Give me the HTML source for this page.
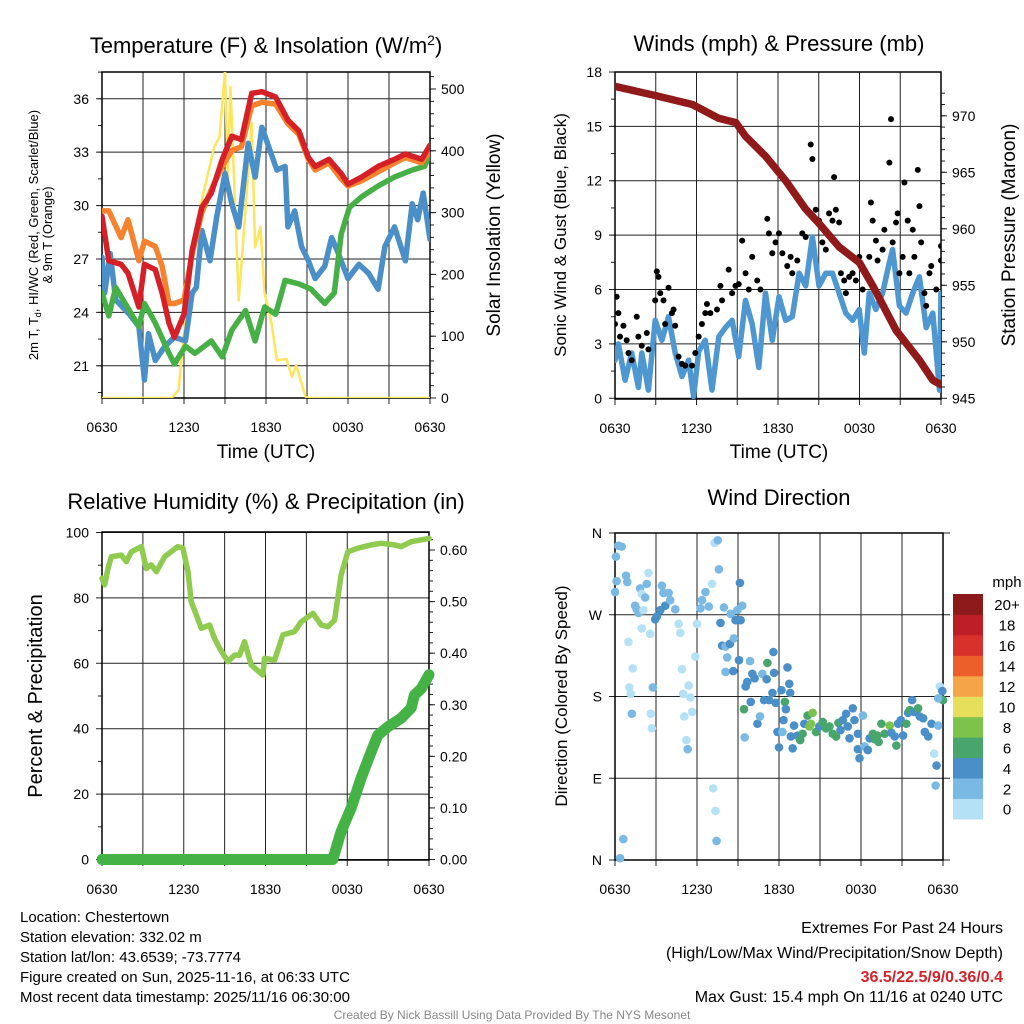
<!DOCTYPE html>
<html><head><meta charset="utf-8"><style>
html,body{margin:0;padding:0;background:#fff;}
svg{display:block;font-family:"Liberation Sans",Arial,sans-serif;}
</style></head><body>
<svg id="chart" width="1024" height="1024" viewBox="0 0 1024 1024" xmlns="http://www.w3.org/2000/svg">
<defs>
<clipPath id="c1"><rect x="102" y="72" width="328" height="326"/></clipPath>
<clipPath id="c2"><rect x="615" y="72" width="326" height="327"/></clipPath>
<clipPath id="c3"><rect x="96" y="532" width="339" height="334"/></clipPath>
<clipPath id="c4"><rect x="610" y="528" width="338" height="338"/></clipPath>
</defs>
<g id="root"></g>
<g font-size="15" fill="#000">
<text x="20" y="922">Location: Chestertown</text>
<text x="20" y="942">Station elevation: 332.02 m</text>
<text x="20" y="962">Station lat/lon: 43.6539; -73.7774</text>
<text x="20" y="982">Figure created on Sun, 2025-11-16, at 06:33 UTC</text>
<text x="20" y="1002">Most recent data timestamp: 2025/11/16 06:30:00</text>
</g>
<g font-size="16" text-anchor="end">
<text x="1003" y="933">Extremes For Past 24 Hours</text>
<text x="1003" y="958">(High/Low/Max Wind/Precipitation/Snow Depth)</text>
<text x="1003" y="982" fill="#d2232a" font-weight="bold">36.5/22.5/9/0.36/0.4</text>
<text x="1003" y="1002">Max Gust: 15.4 mph On 11/16 at 0240 UTC</text>
</g>
<text x="512" y="1019" font-size="12" fill="#888" text-anchor="middle">Created By Nick Bassill Using Data Provided By The NYS Mesonet</text>
</svg>
<script>
// ---------- Panel 1 data: temperature (F) & insolation ----------
const tempHours = [0,0.5,1.4,1.9,2.7,3.1,3.9,4.4,4.9,5.3,6.0,6.6,7.3,8.0,8.8,9.5,10.2,10.95,11.7,12.7,13.6,14.4,15.1,15.6,16.6,17.5,18.0,19.0,20.2,21.4,22.2,23.4,24];
const tempRed = [29.4,26.9,26.7,26.2,24.3,26.7,26.4,25.1,23.4,22.6,23.9,27.5,29.9,30.7,32.6,33.9,33.7,36.3,36.4,36.1,34.8,34.2,32.7,32.2,32.6,31.8,31.2,31.6,32.2,32.6,32.9,32.6,33.4];
const tempOrange = [29.7,29.7,28.2,29.2,26.9,28.0,27.7,26.6,24.5,24.5,24.7,27.3,29.6,30.9,32.2,33.1,33.3,35.6,35.8,35.7,34.6,34.0,32.6,32.0,32.4,31.5,31.1,31.4,31.9,32.4,32.7,32.4,33.1];
const dewHours = [0,0.5,1.0,1.7,2.7,3.1,3.9,4.9,5.3,6.1,6.8,8.0,8.8,9.5,10.5,11.2,11.9,12.7,13.4,14.4,15.3,16.3,17.0,17.5,18.1,19.0,20.2,21.4,22.7,23.6,24];
const dewGreen = [25.1,23.8,25.4,24.5,23.2,24.5,23.4,21.7,21.1,22.1,21.7,22.4,21.5,23.0,24.1,22.4,24.3,23.9,25.8,25.6,25.3,24.5,25.1,28.4,29.9,30.5,31.1,31.6,32.0,32.2,32.9];
const hiHours = [0,0.2,0.6,1.0,2.0,2.7,3.1,3.4,3.9,4.6,5.3,6.1,6.6,6.9,7.3,7.9,8.4,9.0,9.5,10.0,10.7,11.2,11.7,12.2,12.8,13.4,13.6,14.1,14.6,15.1,15.6,16.3,16.8,17.3,18.0,18.8,19.5,20.2,20.7,21.4,22.2,22.7,23.1,23.5,24];
const hiBlue = [27.1,25.1,27.3,24.7,23.9,23.2,20.2,22.8,21.3,22.1,22.6,22.4,25.1,25.4,28.6,26.9,29.4,31.8,30.1,28.8,33.5,31.6,34.4,33.3,32.0,32.2,28.8,29.7,27.7,26.9,25.9,26.6,28.2,27.3,25.9,26.7,26.2,25.3,27.7,28.8,26.9,30.1,29.2,30.7,28.1];
const solarHours = [0,5.1,5.6,6.0,6.6,7.3,8.2,8.6,9.0,9.2,9.4,10.0,10.5,10.95,11.2,11.6,11.9,12.4,12.8,13.5,13.9,14.2,14.9,15.1,24];
const solarYellow = [0,0,13,105,223,320,406,422,530,357,503,158,304,445,244,277,170,121,61,63,34,53,2,0,0];
const tempTicks = [21,24,27,30,33,36];
const solarTicks = [0,100,200,300,400,500];
// ---------- Panel 2 data: winds & pressure ----------
const presHours = [0,2.96,5.7,7.6,8.9,9.6,11.1,12.6,14.0,15.0,16.5,18.0,19.0,20.7,22.4,23.4,24];
const pressure = [972.6,971.8,971.0,969.8,969.4,968.2,966.4,964.2,961.8,960.5,958.4,957.0,954.9,951.0,948.4,946.6,946.2];
const windHours = [0,0.25,0.74,1.23,1.72,1.97,2.46,2.96,3.45,3.94,4.43,4.93,5.42,5.79,6.16,6.65,7.14,7.64,8.13,8.62,9.11,9.61,10.1,10.59,11.08,11.58,12.07,12.56,13.05,13.55,14.04,14.53,15.02,15.52,16.01,16.5,16.99,17.49,17.98,18.35,18.72,19.21,19.7,20.2,20.44,20.94,21.43,21.92,22.41,22.91,23.4,23.89,24];
const windBlue = [2.1,3.0,1.0,2.5,0.6,2.5,0.45,4.3,3.2,4.5,2.5,1.2,2.1,0.1,2.6,3.2,0.45,3.4,3.9,4.3,2.3,5.4,4.1,1.7,5.8,3.2,5.6,4.3,4.5,6.9,6.2,8.9,6.2,6.9,6.9,5.8,4.7,4.3,4.9,2.5,5.8,4.9,5.8,7.5,8.2,5.1,4.7,5.8,6.7,3.9,4.7,0.45,5.8];
const gustHours = [0,0.12,0.25,0.37,0.62,0.86,0.99,1.23,1.6,1.72,1.97,2.34,2.46,2.96,3.08,3.2,3.33,3.57,3.69,3.94,4.19,4.31,4.43,4.68,4.93,5.17,5.67,5.91,6.16,6.4,6.65,6.77,7.02,7.51,7.76,7.88,8.37,8.62,8.87,9.11,9.36,9.61,9.85,10.1,10.47,10.71,11.21,11.33,11.58,11.82,12.07,12.32,12.68,12.93,13.05,13.42,13.79,14.04,14.29,14.41,14.53,14.78,15.02,15.27,15.52,15.76,16.01,16.13,16.26,16.5,16.63,16.87,17.0,17.24,17.49,17.73,17.98,18.23,18.72,18.84,18.97,19.21,19.33,19.7,19.83,20.2,20.32,20.44,20.69,20.81,20.94,21.18,21.31,21.55,21.67,21.92,22.04,22.29,22.41,22.54,22.78,22.91,23.15,23.28,23.65,24,24];
const gustBlack = [4.1,5.6,4.7,3.4,4.0,3.2,2.5,2.1,4.5,3.4,2.9,3.6,2.7,5.4,7.0,6.7,5.8,5.4,4.1,6.1,4.7,4.9,4.0,2.3,1.9,1.8,1.8,2.5,3.4,4.1,4.7,5.2,4.7,4.9,6.2,5.4,7.1,5.8,6.2,6.3,8.7,6.9,6.0,7.8,6.5,6.0,9.9,9.1,8.0,8.6,9.1,8.0,7.3,7.8,6.9,7.6,9.1,8.9,10.2,14.0,13.2,10.4,9.8,8.6,8.2,10.2,9.8,12.2,10.4,9.7,6.9,6.5,5.8,6.7,6.9,6.5,7.8,6.0,7.8,10.8,9.8,8.7,7.6,8.2,9.3,13.0,15.4,8.6,9.7,10.2,6.9,7.8,11.9,9.8,6.9,9.3,7.8,12.6,10.6,8.6,5.8,5.1,6.9,7.3,6.0,7.6,8.4];
const windTicks = [0,3,6,9,12,15,18];
const presTicks = [945,950,955,960,965,970];
// ---------- Panel 3 data: RH & precipitation ----------
const rhHours = [0,0.2,0.44,0.68,1.42,1.78,2.15,2.89,3.25,3.62,3.99,4.6,5.57,5.94,6.31,6.55,7.29,7.9,8.26,8.63,9.24,9.73,10.1,10.46,10.95,11.81,11.93,12.67,13.28,14.13,14.62,15.48,16.09,16.58,17.07,17.55,18.04,18.78,19.76,20.49,21.47,21.96,22.69,24];
const rhValues = [86,84,89,92.6,93.1,91.1,94.1,95.7,89,90.1,88,92.6,95.7,95.2,88,78.9,70.7,71.7,67.6,64.6,60.5,62.5,62.5,66.6,59.5,56.4,61.5,61,68.7,69.7,72.7,75.3,71.7,71.2,73.2,87,94.1,95.2,96.2,96.7,96.2,95.7,97.2,98.2];
const precipHours = [0,16.94,17.55,18.29,19.02,19.76,20.24,20.98,21.96,22.69,22.93,23.42,24];
const precipValues = [0,0,0.054,0.10,0.158,0.209,0.241,0.257,0.274,0.294,0.319,0.331,0.358];
const rhTicks = [0,20,40,60,80,100];
const precipTicks = [0,0.1,0.2,0.3,0.4,0.5,0.6];
// ---------- Panel 4 data: wind direction ----------
const dirHours = [0,0.07,0.25,0.49,0.12,0.81,0.9,0.98,1.3,1.05,1.15,1.23,1.84,1.96,1.47,1.59,1.72,2.08,2.21,2.45,2.33,1.96,2.57,2.62,2.7,2.77,2.94,3.06,3.31,3.43,3.55,3.68,3.92,4.04,4.41,4.66,4.78,4.9,4.98,5.07,5.22,5.32,5.39,5.51,5.64,5.88,6.0,6.25,6.37,6.62,6.86,7.1,7.28,7.52,7.6,7.18,7.35,7.43,0.61,0.37,7.72,7.84,7.97,8.09,8.21,8.09,8.46,8.41,8.7,8.65,8.82,8.95,9.19,9.14,9.31,9.07,9.44,9.49,9.56,9.68,9.88,9.93,10.05,10.22,10.42,10.61,10.78,10.91,11.1,11.15,11.27,11.52,11.59,11.64,11.76,11.89,12.0,12.25,12.18,12.33,12.43,12.5,12.62,12.75,12.82,12.87,13.0,13.1,13.36,13.55,13.73,13.85,14.09,14.22,14.34,14.46,14.71,14.95,15.2,15.44,15.69,15.93,16.18,16.35,16.5,16.67,16.91,17.03,17.16,17.4,17.52,17.77,17.77,17.89,18.14,18.26,18.5,18.63,18.87,19.0,19.19,19.29,19.49,19.73,20.1,20.22,20.47,20.59,20.71,20.91,21.08,21.32,21.45,21.57,21.74,21.89,22.18,22.3,22.55,22.67,22.92,23.16,23.36,23.53,23.46,23.65,23.77,23.95,24.0,23.65];
const dirDegrees = [295,334,346,345,307,313,306,240,211,190,183,161,299,293,280,276,272,275,289,316,304,255,249,161,145,190,265,268,275,302,294,280,294,286,276,260,250,210,183,158,132,122,192,179,163,224,260,277,286,295,279,304,349,352,320,79,54,21,23,2,261,236,278,235,223,207,271,238,244,208,264,275,264,305,280,220,166,135,191,196,219,174,205,200,150,158,205,176,199,217,176,184,229,206,173,141,124,141,187,154,174,166,212,194,184,136,123,148,137,132,139,150,159,147,150,162,141,147,152,145,147,139,136,151,143,154,161,147,134,167,154,139,122,112,159,125,121,134,139,133,137,130,150,139,148,140,136,126,150,154,137,150,162,165,176,163,167,158,156,141,136,150,117,104,82,148,191,186,176,178];
const dirSpeeds = [2,2,2,2,2,2,2,0,0,0,0,2,2,0,2,2,2,0,2,0,2,0,0,0,0,2,4,4,4,2,2,4,2,2,2,0,0,0,0,0,0,2,0,0,0,0,0,2,2,2,2,0,0,2,2,0,0,2,2,2,4,4,2,2,2,2,2,4,2,4,4,2,4,4,2,4,6,2,4,4,2,4,4,4,4,2,2,4,4,6,4,4,4,4,4,4,4,2,4,4,6,4,4,4,4,4,4,4,4,6,6,4,6,8,8,8,6,4,6,6,6,6,6,6,4,4,4,4,4,4,4,4,4,4,2,2,4,4,6,6,6,6,6,6,8,4,4,6,4,4,4,6,4,6,4,4,6,4,4,4,4,4,0,4,2,2,0,4,6,2];
const dirTickLabels = ['N','E','S','W','N'];
const speedBins = ['0','2','4','6','8','10','12','14','16','18','20+'];
const speedColors = ['#b5e1f7','#7ab9e3','#4a8fc8','#48a56c','#7dc24b','#e5df5b','#f4a547','#ec5f2b','#d8302b','#bd1e25','#8c1a1b'];
const timeTickLabels = ['0630','1230','1830','0030','0630'];

const NS='http://www.w3.org/2000/svg';
const root=document.getElementById('root');
function mk(tag,attrs,parent){const e=document.createElementNS(NS,tag);for(const k in attrs)e.setAttribute(k,attrs[k]);(parent||root).appendChild(e);return e;}
function txt(s,attrs,parent){const e=mk('text',attrs,parent);e.textContent=s;return e;}

function panel(P){
  const g=mk('g',{});
  
  
  P.g=g;
  P.xh=h=>P.x0+h*(P.x1-P.x0)/24;
  for(let i=0;i<=8;i++){const x=P.xh(i*3);const l=mk('line',{x1:x,x2:x,y1:P.y0,y2:P.y1+6,stroke:'#222','stroke-width':1},g);
    }
  P.leftTicks.forEach((v,i)=>{const y=P.ly(v);const l=mk('line',{x1:P.x0-6,x2:P.x1+(P.gridExt||0),y1:y,y2:y,stroke:'#222','stroke-width':1},g);
    
    const t=txt(P.leftLabels?P.leftLabels[i]:String(v),{x:P.x0-13,y:y+5,'font-size':14,'text-anchor':'end'},g);
    });
  if(P.minorLeft)P.minorLeft.forEach(v=>mk('line',{x1:P.x0-4,x2:P.x0,y1:P.ly(v),y2:P.ly(v),stroke:'#222'},g));
  if(P.rightTicks)P.rightTicks.forEach((v,i)=>{const y=P.ry(v);mk('line',{x1:P.x1,x2:P.x1+6,y1:y,y2:y,stroke:'#222'},g);
    const t=txt(P.rightLabels[i],{x:P.x1+11,y:y+5,'font-size':14},g);
    });
  if(P.minorRight)P.minorRight.forEach(v=>mk('line',{x1:P.x1,x2:P.x1+4,y1:P.ry(v),y2:P.ry(v),stroke:'#222'},g));
  const b=mk('rect',{x:P.x0,y:P.y0,width:P.x1-P.x0,height:P.y1-P.y0,fill:'none',stroke:'#000','stroke-width':1.5},g);
  
  timeTickLabels.forEach((s,i)=>{const t=txt(s,{x:P.xh(i*6),y:P.y1+34,'font-size':14,'text-anchor':'middle'},g);
    });
  return P;
}
function series(P,hs,vs,yf,color,w,name){
  const d=hs.map((h,i)=>(i?'L':'M')+P.xh(h).toFixed(1)+','+yf(vs[i]).toFixed(1)).join(' ');
  const p=mk('path',{d:d,fill:'none',stroke:color,'stroke-width':w,'stroke-linejoin':'round','stroke-linecap':'round','clip-path':'url(#'+P.clip+')'},P.g);
  
}
function range(a,b,s){const r=[];for(let v=a;v<=b+1e-9;v+=s)r.push(+v.toFixed(3));return r;}

// Panel 1
const P1=panel({name:'temperature-panel',x0:102,x1:430,y0:72,y1:398,clip:'c1',
  ly:v=>398-(v-19.19)*17.8, ry:v=>398-v*0.618,
  leftTicks:tempTicks, minorLeft:range(19.5,37.5,1.5),
  rightTicks:solarTicks, rightLabels:solarTicks.map(String), minorRight:range(0,520,20)});
series(P1,solarHours,solarYellow,P1.ry,'#fde55c',2.5,'solar-insolation-line');
series(P1,hiHours,hiBlue,P1.ly,'#4b8fc8',5.5,'heat-index-windchill-line');
series(P1,dewHours,dewGreen,P1.ly,'#46b046',5.5,'dewpoint-line');
series(P1,tempHours,tempOrange,P1.ly,'#f5822e',5.5,'temp-9m-line');
series(P1,tempHours,tempRed,P1.ly,'#d62027',5.5,'temp-2m-line');

// Panel 2
const P2=panel({name:'winds-pressure-panel',x0:615,x1:941,y0:72,y1:399,clip:'c2',
  ly:v=>398.3-v*18.13, ry:v=>398.3-(v-945)*11.3,
  leftTicks:windTicks, minorLeft:range(1.5,16.5,1.5),
  rightTicks:presTicks, rightLabels:presTicks.map(String), minorRight:range(946,972,1)});
series(P2,windHours,windBlue,P2.ly,'#4e97d1',5.5,'sonic-wind-line');
gustHours.forEach((h,i)=>{const c=mk('circle',{cx:P2.xh(h),cy:P2.ly(gustBlack[i]),r:3,fill:'#000','clip-path':'url(#c2)'},P2.g);
  });
series(P2,presHours,pressure,P2.ry,'#901a1a',7.5,'station-pressure-line');

// Panel 3
const P3=panel({name:'humidity-precip-panel',x0:102,x1:429,y0:532,y1:860,clip:'c3',
  ly:v=>859.5-v*3.27, ry:v=>859.5-v*515.8,
  leftTicks:rhTicks, minorLeft:range(10,90,20),
  rightTicks:precipTicks, rightLabels:precipTicks.map(v=>v.toFixed(2)), minorRight:range(0.02,0.62,0.02)});
series(P3,rhHours,rhValues,P3.ly,'#8fcb4e',5.5,'relative-humidity-line');
series(P3,precipHours,precipValues,P3.ry,'#45b246',11,'precipitation-line');

// Panel 4
const P4=panel({name:'wind-direction-panel',x0:615,x1:943,y0:533,y1:860,clip:'c4',gridExt:7,
  ly:v=>860-v*(327/360),
  leftTicks:[0,90,180,270,360], leftLabels:dirTickLabels});
dirHours.forEach((h,i)=>{const c=mk('circle',{cx:P4.xh(h),cy:P4.ly(dirDegrees[i]),r:4.3,fill:speedColors[Math.min(10,Math.floor(dirSpeeds[i]/2))],'clip-path':'url(#c4)'},P4.g);
  });
const cb=mk('g',{});


const cbTop=594,cbH=20.45;
speedBins.forEach((s,i)=>{const j=10-i;const y=cbTop+j*cbH;
  mk('rect',{x:953,y:y,width:30,height:cbH+0.5,fill:speedColors[i]},cb);
  const t=txt(s,{x:1007,y:y+cbH/2+6,'font-size':15,'text-anchor':'middle'},cb);
  });
txt('mph',{x:1007,y:587,'font-size':15,'text-anchor':'middle'},cb);

function title(s,x,y,size,rot,name){const a={x:x,y:y,'font-size':size,'text-anchor':'middle'};if(rot)a.transform='rotate('+rot+' '+x+' '+y+')';
  const t=txt(s,a);return t;}
const t1=title('',266,53,22,0,'temperature-title');
t1.innerHTML='Temperature (F) &amp; Insolation (W/m<tspan dy="-8" font-size="14">2</tspan><tspan dy="8">)</tspan>';
title('Winds (mph) & Pressure (mb)',779,51,22,0,'winds-title');
title('Relative Humidity (%) & Precipitation (in)',266,509,22,0,'humidity-title');
title('Wind Direction',779,505,22,0,'wind-direction-title');
title('Time (UTC)',266,458,19,0,'x-axis-title');
title('Time (UTC)',779,458,19,0,'x-axis-title');
const yl=title('',38,235,13,-90,'temperature-y-axis-title');
yl.innerHTML='2m T, T<tspan dy="3" font-size="9">d</tspan><tspan dy="-3">, HI/WC (Red, Green, Scarlet/Blue)</tspan>';
title('& 9m T (Orange)',52,235,13,-90,'temperature-y-axis-title-2');
title('Solar Insolation (Yellow)',500,235,19,-90,'solar-y-axis-title');
title('Sonic Wind & Gust (Blue, Black)',566,235,17,-90,'wind-y-axis-title');
title('Station Pressure (Maroon)',1015,235,19,-90,'pressure-y-axis-title');
title('Percent & Precipitation',42,696,20,-90,'humidity-y-axis-title');
title('Direction (Colored By Speed)',567,696,17,-90,'direction-y-axis-title');
</script>
</body></html>
